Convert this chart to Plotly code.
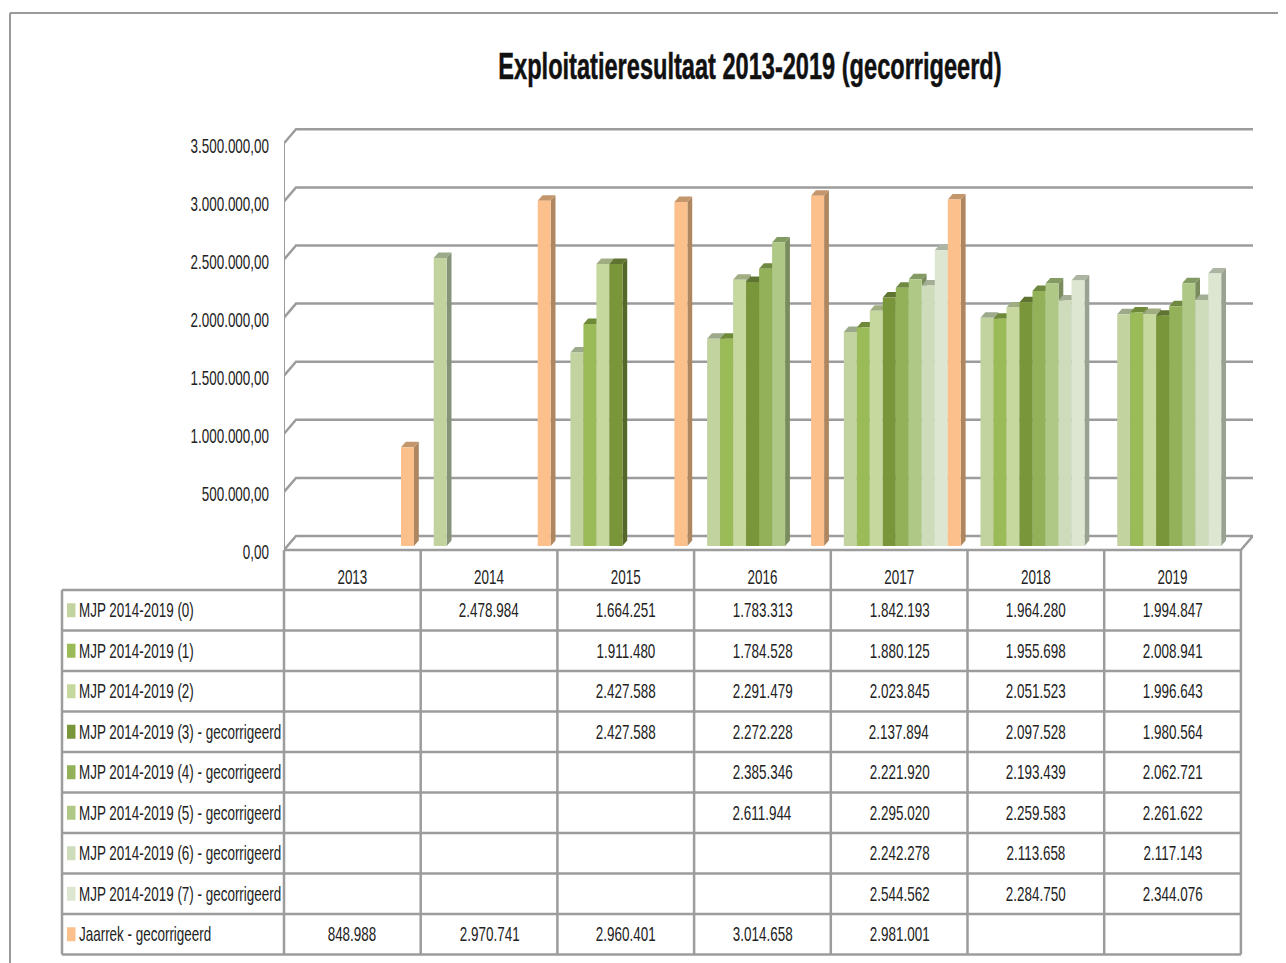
import plotly.graph_objects as go

W, H = 1286, 963
OFF = 8  # the page body has an 8 px margin
title = "Exploitatieresultaat 2013-2019 (gecorrigeerd)"
years = ["2013", "2014", "2015", "2016", "2017", "2018", "2019"]
series_names = ["MJP 2014-2019 (0)", "MJP 2014-2019 (1)", "MJP 2014-2019 (2)",
                "MJP 2014-2019 (3) - gecorrigeerd", "MJP 2014-2019 (4) - gecorrigeerd",
                "MJP 2014-2019 (5) - gecorrigeerd", "MJP 2014-2019 (6) - gecorrigeerd",
                "MJP 2014-2019 (7) - gecorrigeerd", "Jaarrek - gecorrigeerd"]
mjp0 = [None, 2478984, 1664251, 1783313, 1842193, 1964280, 1994847]
mjp1 = [None, None, 1911480, 1784528, 1880125, 1955698, 2008941]
mjp2 = [None, None, 2427588, 2291479, 2023845, 2051523, 1996643]
mjp3 = [None, None, 2427588, 2272228, 2137894, 2097528, 1980564]
mjp4 = [None, None, None, 2385346, 2221920, 2193439, 2062721]
mjp5 = [None, None, None, 2611944, 2295020, 2259583, 2261622]
mjp6 = [None, None, None, None, 2242278, 2113658, 2117143]
mjp7 = [None, None, None, None, 2544562, 2284750, 2344076]
jaarrek = [848988, 2970741, 2960401, 3014658, 2981001, None, None]
all_series = [mjp0, mjp1, mjp2, mjp3, mjp4, mjp5, mjp6, mjp7, jaarrek]
colors = ["#C2D3A0", "#9BBB59", "#C6D89E", "#7A963A", "#93B158", "#AFC886", "#CEDCBB", "#DCE6D0", "#FBC08C"]
walls = ["#879378", "#6C823E", "#8A976E", "#556829", "#67803C", "#7A8C5D", "#909A83", "#99A191", "#AE8660"]
caps = ["#9CA98A", "#6E8A38", "#9FAD80", "#5E7430", "#6F8A40", "#839A62", "#A3AE94", "#ABB5A2", "#C4966C"]
ytick_vals = [0, 500000, 1000000, 1500000, 2000000, 2500000, 3000000, 3500000]
ytick_text = ["0,00", "500.000,00", "1.000.000,00", "1.500.000,00", "2.000.000,00", "2.500.000,00", "3.000.000,00", "3.500.000,00"]

FONT = "Liberation Sans, Arial"
GRID = "#9C9C9C"
INK = "#222222"
PXX = 136.7
K = 116.2e-6     # px per value
gx, gy = 12 / PXX, 14 / K        # depth of the wall
bx, by = 4.8 / PXX, 5.5 / K      # depth of a bar
base = 4 / K
bw = 13 / PXX
PW, PH = W, H

def px(x): return (x - OFF) / PW
def py(y): return 1 - (y - OFF) / PH
def fmt(v): return "" if v is None else f"{v:,}".replace(",", ".")

x_range = [-0.5, -0.5 + (1253 - 284) / PXX]
y_range = [-10 / K, 430 / K]
fig = go.Figure()

# back wall grid lines
gxs, gys = [], []
for v in ytick_vals:
    gxs += [-0.5, -0.5 + gx, x_range[1], None]
    gys += [v, v + gy, v + gy, None]
fig.add_trace(go.Scatter(x=gxs, y=gys, mode="lines", line=dict(color=GRID, width=2.5), hoverinfo="skip", showlegend=False))
# floor front and side, vertical axis
fig.add_trace(go.Scatter(x=[-0.5, 6.5, 6.5 + gx], y=[0, 0, gy], mode="lines", line=dict(color=GRID, width=2.5), hoverinfo="skip", showlegend=False))
fig.add_trace(go.Scatter(x=[-0.5, -0.5], y=[0, 3500000], mode="lines", line=dict(color=GRID, width=2), hoverinfo="skip", showlegend=False))

def offset(i): return -0.5 + (13 + 13 * i) / PXX

# side walls and top caps, drawn below the bar fronts
for i, vals in enumerate(all_series):
    wx, wy, cx, cy = [], [], [], []
    for c, v in enumerate(vals):
        if v is None:
            continue
        l = c + offset(i)
        r = l + bw
        t = base + v
        wx += [r, r + bx, r + bx, r, r, None]
        wy += [base, base + by, t + by, t, base, None]
        cx += [l, r, r + bx, l + bx, l, None]
        cy += [t, t, t + by, t + by, t, None]
    fig.add_trace(go.Scatter(x=wx, y=wy, mode="lines", fill="toself", fillcolor=walls[i], line=dict(width=0, color=walls[i]), hoverinfo="skip", showlegend=False))
    fig.add_trace(go.Scatter(x=cx, y=cy, mode="lines", fill="toself", fillcolor=caps[i], line=dict(width=0, color=caps[i]), hoverinfo="skip", showlegend=False))

# bar fronts
for i, vals in enumerate(all_series):
    fig.add_trace(go.Bar(x=list(range(7)), y=vals, base=base, width=bw, offset=offset(i), name=series_names[i],
                         marker=dict(color=colors[i], line=dict(width=0)), xaxis="x2", yaxis="y2", showlegend=False))

shapes = []
def line(x0, y0, x1, y1, color=GRID, width=2.5):
    shapes.append(dict(type="line", xref="paper", yref="paper", x0=px(x0), y0=py(y0), x1=px(x1), y1=py(y1), line=dict(color=color, width=width)))

# image frame
line(10, 13, W + OFF, 13, "#9A9A9A", 2)
line(10, 13, 10, H + OFF, "#9A9A9A", 2)

# data table
rows_top = 590
row_h = 40.5
rows_n = len(series_names)
for r in range(rows_n + 1):
    line(62, rows_top + r * row_h, 1241, rows_top + r * row_h)
line(62, rows_top, 62, rows_top + rows_n * row_h)
for c in range(8):
    xp = 284 + c * PXX
    line(xp, 550, xp, rows_top + rows_n * row_h)

TS = 21
ann = []
for r, name in enumerate(series_names):
    yc = rows_top + (r + 0.5) * row_h
    shapes.append(dict(type="rect", xref="paper", yref="paper", x0=px(67), x1=px(75.5), y0=py(yc - 7), y1=py(yc + 7), fillcolor=colors[r], line=dict(width=0)))
    ann.append(dict(xref="paper", yref="paper", x=px(77.5), y=py(yc - 0.7), text=name, showarrow=False, xanchor="left", align="left", yanchor="middle",
                    borderpad=0, font=dict(family=FONT, size=TS, color=INK)))
    for c, v in enumerate(all_series[r]):
        if v is not None:
            ann.append(dict(xref="x", yref="paper", x=c, y=py(yc - 0.7), text=fmt(v), showarrow=False, xanchor="center", yanchor="middle", font=dict(family=FONT, size=TS, color=INK)))

axis_common = dict(showgrid=False, zeroline=False, showline=False, automargin=False)
fig.update_layout(
    width=PW, height=PH, autosize=False, margin=dict(l=0, r=0, t=0, b=0, autoexpand=False),
    paper_bgcolor="white", plot_bgcolor="white", barmode="overlay", showlegend=False,
    title=dict(text=title, x=px(750), xanchor="center", y=py(66), yanchor="middle",
               font=dict(family=FONT, size=36, weight=700, color="#111111")),
    xaxis=dict(domain=[px(284), px(1253)], range=x_range, tickmode="array", tickvals=list(range(7)), ticktext=years,
               ticks="", ticklabelstandoff=2, tickfont=dict(family=FONT, size=TS, color=INK), **axis_common),
    yaxis=dict(domain=[py(560), py(120)], range=y_range, tickmode="array", tickvals=ytick_vals, ticktext=ytick_text,
               ticks="", ticklabelstandoff=14, ticklabelshift=2, tickfont=dict(family=FONT, size=TS, color=INK), **axis_common),
    xaxis2=dict(overlaying="x", range=x_range, visible=False),
    yaxis2=dict(overlaying="y", range=y_range, visible=False),
    shapes=shapes, annotations=ann,
)
# the reference's lettering is horizontally squeezed: condense the real text elements
squeeze = """
document.querySelectorAll('.js-plotly-plot svg text').forEach(function(t){
  var isTitle = t.classList.contains('gtitle');
  var f = isTitle ? 0.655 : 0.64;
  var n = t.getComputedTextLength();
  if (n > 0) { t.setAttribute('lengthAdjust', 'spacingAndGlyphs'); t.setAttribute('textLength', n * f); }
  if (isTitle) { t.style.stroke = '#111111'; t.style.strokeWidth = '0.5px'; }
});
"""
fig.write_html("out.html", post_script=squeeze, config=dict(displayModeBar=False))
